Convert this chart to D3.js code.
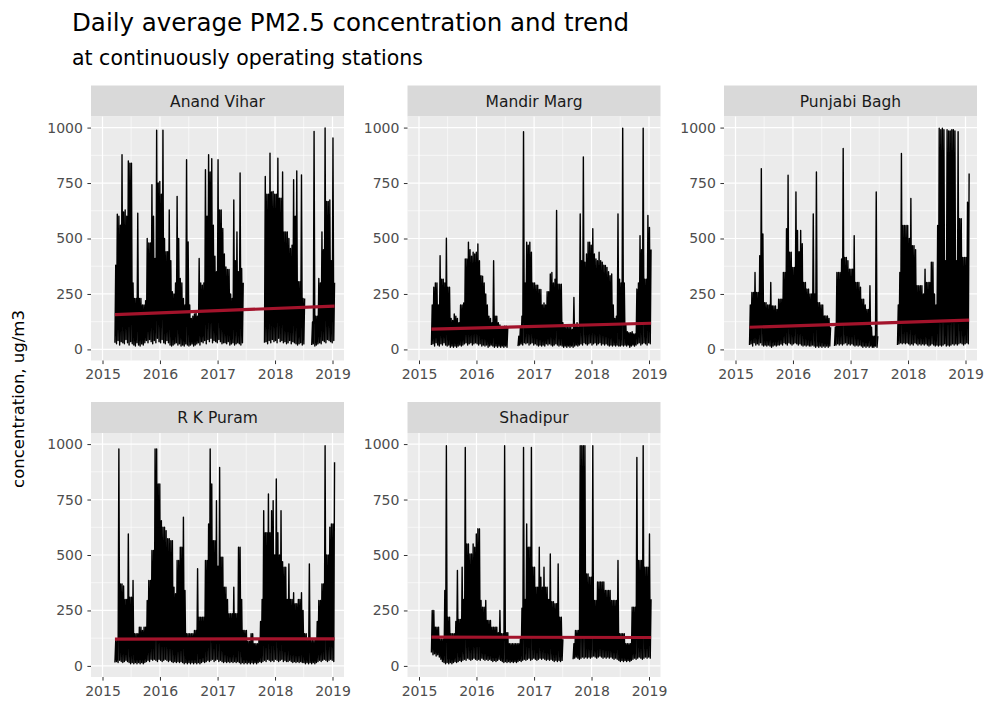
<!DOCTYPE html>
<html>
<head>
<meta charset="utf-8">
<script src="https://cdnjs.cloudflare.com/ajax/libs/d3/7.8.5/d3.min.js"></script>
<style>
  html, body { margin: 0; padding: 0; background: #ffffff; }
  svg { display: block; }
  text { font-family: "DejaVu Sans", "Liberation Sans", Arial, sans-serif; }
</style>
</head>
<body>
<svg id="chart" width="990" height="704"></svg>
<script>
// ---- data -----------------------------------------------------------------
const stations = ["Anand Vihar", "Mandir Marg", "Punjabi Bagh", "R K Puram", "Shadipur"];

// 10-day periods starting 21 March 2015; for each period the lowest and the
// highest daily average (ug/m3). null = station offline.
const firstPeriod = new Date(2015, 2, 21);
const periodDays = 10;

const anandViharHigh = [
  380, 610, 600, 560, 878, 620, 629, 600, 850, 840,
  840, 300, 230, 230, 614, 230, 230, 200, 200, 220,
  500, 480, 480, 742, 600, 410, 988, 750, 757, 700,
  988, 500, 440, 440, 629, 400, 260, 250, 300, 690,
  500, 320, 300, 230, 200, 855, 485, 200, 140, 150,
  160, 170, 150, 410, 300, 290, 300, 810, 600, 878,
  800, 860, 560, 420, 350, 855, 629, 629, 545, 430,
  372, 360, 360, 250, 230, 674, 400, 530, 350, 795,
  365, 300, null, null, null, null, null, null, null, null,
  null, null, null, null, null, 780, 700, 700, 885, 710,
  712, 700, 700, 862, 682, 682, 800, 530, 530, 530,
  500, 455, 470, 765, 600, 805, 305, 305, 787, 230,
  230, null, null, null, null, 124, 983, 150, 150, 320,
  300, 530, 450, 998, 667, 667, 674, 400, 953, 300,
  null
];
const anandViharLow = [
  30, 25, 40, 20, 35, 30, 25, 45, 30, 20,
  35, 25, 20, 15, 30, 20, 15, 25, 20, 30,
  40, 30, 45, 35, 25, 40, 30, 50, 35, 30,
  45, 30, 25, 40, 30, 20, 15, 20, 25, 30,
  20, 25, 15, 20, 15, 25, 20, 15, 20, 25,
  15, 20, 25, 30, 20, 35, 30, 40, 25, 45,
  35, 50, 30, 40, 35, 30, 45, 35, 25, 30,
  30, 25, 35, 20, 25, 30, 20, 25, 30, 25,
  20, 30, null, null, null, null, null, null, null, null,
  null, null, null, null, null, 30, 35, 25, 40, 30,
  45, 35, 40, 30, 50, 35, 40, 30, 35, 25,
  30, 40, 25, 35, 30, 25, 20, 25, 30, 20,
  25, null, null, null, null, 20, 25, 15, 20, 25,
  30, 25, 40, 35, 30, 45, 40, 35, 30, 40,
  null
];

const mandirMargHigh = [
  200, 280, 300, 300, 200, 423, 317, 317, 300, 501,
  280, 280, 140, 130, 160, 150, 140, 120, 200, 200,
  210, 408, 408, 483, 450, 420, 438, 430, 438, 475,
  400, 332, 330, 300, 250, 200, 150, 140, 120, 400,
  150, 150, 120, 110, 100, 100, 105, 105, 100, null,
  null, null, null, null, null, 60, 100, 150, 981, 300,
  483, 470, 483, 438, 300, 300, 290, 290, 270, 270,
  200, 210, 200, 260, 260, 340, 347, 300, 317, 627,
  294, 294, 294, 120, 110, 100, 100, 100, 100, 90,
  234, 110, 120, 100, 611, 400, 868, 393, 430, 483,
  483, 470, 544, 430, 408, 400, 438, 400, 393, 380,
  378, 370, 350, 332, 340, 200, 140, 150, 611, 317,
  300, 997, 300, 110, 80, 75, 75, 80, 70, 70,
  272, 300, 513, 450, 997, 317, 317, 604, 550, 450,
  null
];
const mandirMargLow = [
  20, 25, 15, 30, 20, 15, 25, 20, 30, 20,
  15, 20, 10, 15, 10, 15, 10, 15, 20, 15,
  20, 25, 30, 20, 25, 30, 20, 25, 30, 25,
  20, 25, 15, 20, 15, 20, 10, 15, 20, 15,
  10, 15, 10, 15, 10, 15, 10, 15, 10, null,
  null, null, null, null, null, 15, 20, 25, 20, 30,
  25, 30, 20, 25, 30, 20, 25, 20, 15, 20,
  15, 20, 15, 25, 20, 25, 20, 15, 20, 25,
  20, 15, 20, 15, 10, 15, 10, 15, 10, 15,
  10, 15, 20, 15, 20, 25, 20, 30, 25, 20,
  25, 30, 20, 25, 30, 20, 25, 30, 20, 25,
  20, 25, 20, 15, 20, 15, 20, 15, 20, 15,
  15, 20, 15, 20, 15, 20, 10, 15, 20, 15,
  20, 25, 30, 20, 25, 30, 25, 20, 30, 25,
  null
];

const punjabiBaghHigh = [
  null, 200, 257, 257, 347, 257, 257, 423, 815, 520,
  211, 211, 200, 200, 302, 196, 196, 196, 180, 226,
  226, 226, 347, 347, 544, 785, 438, 438, 370, 370,
  710, 536, 440, 536, 476, 302, 302, 272, 272, 250,
  250, 611, 250, 800, 211, 211, 200, 200, 151, 151,
  151, 140, 100, null, null, 100, 347, 347, 347, 408,
  906, 415, 415, 400, 362, 362, 362, 513, 302, 302,
  302, 280, 226, 226, 200, 180, 180, 287, 100, 60,
  60, 710, 60, null, null, null, null, null, null, null,
  null, null, null, null, null, 200, 347, 883, 559, 559,
  559, 559, 500, 680, 468, 468, 450, 287, 287, 287,
  287, 250, 362, 302, 302, 302, 393, 393, 250, 200,
  559, 997, 990, 997, 990, 400, 990, 985, 985, 990,
  990, 985, 400, 981, 589, 589, 415, 415, 415, 664,
  793
];
const punjabiBaghLow = [
  null, 20, 25, 15, 30, 20, 25, 20, 30, 20,
  15, 20, 15, 20, 15, 10, 15, 20, 15, 20,
  20, 25, 20, 30, 25, 20, 30, 25, 20, 25,
  30, 25, 20, 25, 20, 15, 20, 15, 20, 15,
  15, 20, 15, 10, 15, 10, 15, 10, 15, 10,
  15, 10, 15, null, null, 15, 20, 25, 20, 25,
  20, 25, 30, 20, 25, 20, 25, 20, 15, 20,
  15, 20, 15, 10, 15, 10, 15, 10, 15, 10,
  10, 15, 10, null, null, null, null, null, null, null,
  null, null, null, null, null, 20, 25, 30, 25, 30,
  25, 30, 25, 20, 25, 20, 30, 25, 20, 25,
  20, 25, 20, 25, 20, 15, 20, 25, 20, 15,
  20, 15, 20, 15, 20, 25, 15, 20, 15, 20,
  25, 20, 25, 20, 25, 30, 25, 20, 25, 30,
  25
];

const rkPuramHigh = [
  115, 115, 978, 370, 370, 360, 300, 300, 595, 310,
  310, 385, 145, 145, 145, 175, 175, 160, 175, 175,
  295, 385, 385, 520, 520, 978, 978, 820, 820, 655,
  625, 625, 610, 573, 573, 565, 565, 355, 325, 475,
  475, 535, 535, 670, 340, 145, 145, 145, 145, 145,
  160, 160, 438, 220, 220, 220, 220, 475, 475, 640,
  978, 820, 565, 565, 745, 450, 895, 490, 490, 355,
  355, 300, 235, 235, 235, 355, 235, 235, 535, 535,
  300, 160, 160, 160, 110, 110, 145, 145, 100, 100,
  100, 120, 200, 300, 700, 600, 600, 775, 600, 700,
  745, 500, 843, 600, 500, 700, 470, 445, 445, 300,
  460, 300, 300, 330, 280, 280, 300, 300, 330, 250,
  145, 145, 115, 460, 115, 115, 115, 115, 200, 295,
  295, 370, 370, 993, 500, 500, 625, 640, 640, 918,
  null
];
const rkPuramLow = [
  15, 20, 15, 25, 20, 15, 20, 25, 20, 15,
  10, 15, 10, 15, 10, 15, 10, 15, 10, 15,
  20, 25, 20, 30, 25, 30, 25, 20, 30, 25,
  20, 25, 30, 25, 20, 25, 20, 15, 20, 15,
  20, 15, 20, 15, 10, 15, 10, 15, 10, 15,
  10, 15, 10, 15, 10, 15, 20, 15, 20, 25,
  20, 25, 30, 20, 25, 30, 20, 25, 20, 15,
  20, 15, 20, 15, 20, 15, 20, 15, 20, 15,
  10, 15, 10, 15, 10, 15, 10, 15, 10, 15,
  10, 15, 20, 15, 20, 25, 20, 30, 25, 20,
  25, 20, 30, 25, 20, 25, 30, 20, 25, 20,
  20, 25, 20, 15, 20, 15, 20, 15, 20, 15,
  15, 10, 15, 10, 15, 10, 15, 10, 15, 20,
  25, 20, 25, 30, 25, 20, 25, 30, 25, 20,
  null
];

const shadipurHigh = [
  250, 250, 175, 175, 175, 120, 120, 120, 340, 993,
  220, 220, 145, 145, 145, 200, 430, 210, 210, 445,
  300, 985, 550, 550, 505, 505, 550, 535, 595, 618,
  618, 295, 265, 265, 295, 205, 205, 205, 175, 175,
  175, 175, 150, 250, 145, 145, 993, 150, 150, 100,
  100, 100, 100, 100, 100, 100, 120, 260, 985, 300,
  640, 535, 535, 985, 445, 445, 355, 355, 535, 400,
  355, 445, 355, 355, 300, 505, 290, 290, 280, 280,
  460, 220, 220, 120, null, null, null, null, null, null,
  100, 160, 160, 160, 993, 993, 993, 993, 415, 415,
  400, 400, 993, 295, 295, 378, 378, 378, 378, 378,
  340, 340, 340, 340, 295, 295, 295, 295, 475, 145,
  145, 145, 145, 100, 100, 100, 100, 265, 265, 265,
  940, 475, 475, 475, 993, 445, 445, 445, 595, 300,
  null
];
const shadipurLow = [
  60, 50, 55, 45, 50, 40, 30, 20, 15, 10,
  15, 10, 15, 10, 15, 20, 15, 20, 25, 20,
  25, 30, 25, 35, 30, 25, 30, 35, 30, 25,
  30, 25, 35, 30, 25, 30, 25, 30, 25, 20,
  25, 20, 25, 30, 25, 20, 15, 20, 15, 20,
  15, 20, 15, 20, 15, 20, 25, 20, 25, 30,
  25, 30, 35, 25, 30, 35, 30, 25, 30, 35,
  30, 35, 30, 25, 30, 25, 30, 25, 20, 25,
  20, 25, 20, 25, null, null, null, null, null, null,
  30, 35, 40, 35, 30, 35, 40, 35, 40, 35,
  40, 35, 40, 45, 40, 35, 40, 45, 40, 35,
  40, 35, 40, 35, 40, 35, 30, 35, 30, 25,
  20, 25, 20, 25, 20, 25, 20, 25, 30, 35,
  30, 35, 40, 35, 30, 35, 40, 35, 40, 35,
  null
];

const stationHigh = [anandViharHigh, mandirMargHigh, punjabiBaghHigh, rkPuramHigh, shadipurHigh];
const stationLow  = [anandViharLow, mandirMargLow, punjabiBaghLow, rkPuramLow, shadipurLow];

// fitted linear trend at the first and last reading of each station
const trendStart = [157, 91, 100, 121, 130];
const trendEnd   = [195, 118, 132, 122, 128];

const yearTicks = [2015, 2016, 2017, 2018, 2019];
const concentrationTicks = [0, 250, 500, 750, 1000];
const concentrationMinor = [125, 375, 625, 875];

const titleText = "Daily average PM2.5 concentration and trend";
const subtitleText = "at continuously operating stations";
const yTitleText = "concentration, ug/m3";

// ---- layout ---------------------------------------------------------------
const svg = d3.select("#chart");
const panelW = 253, panelH = 244, stripH = 31;
const colLeft = [91, 407.5, 724];
const rowTop = [116.5, 433];
const tickLen = 3.6;

const xStart = new Date(2015, 0, 1), xEnd = new Date(2019, 0, 1);
const pad = (xEnd - xStart) * 0.05;
const xDomain = [new Date(+xStart - pad), new Date(+xEnd + pad)];
const yDomain = [-50, 1050];

svg.append("rect").attr("width", 990).attr("height", 704).attr("fill", "#ffffff");

// titles
svg.append("text").attr("x", 72).attr("y", 31)
  .attr("font-size", 24.5).attr("fill", "#000000").text(titleText);
svg.append("text").attr("x", 72).attr("y", 65)
  .attr("font-size", 20.5).attr("fill", "#000000").text(subtitleText);
svg.append("text")
  .attr("transform", "translate(24,399) rotate(-90)")
  .attr("text-anchor", "middle").attr("font-size", 16.5).attr("fill", "#000000")
  .text(yTitleText);

stations.forEach((name, s) => {
  const col = s % 3, row = Math.floor(s / 3);
  const left = colLeft[col], top = rowTop[row];
  const x = d3.scaleTime().domain(xDomain).range([left, left + panelW]);
  const y = d3.scaleLinear().domain(yDomain).range([top + panelH, top]);

  const g = svg.append("g").attr("class", "panel");

  // strip
  g.append("rect").attr("x", left).attr("y", top - stripH)
    .attr("width", panelW).attr("height", stripH).attr("fill", "#d9d9d9");
  g.append("text").attr("x", left + panelW / 2).attr("y", top - stripH / 2)
    .attr("dy", "0.36em").attr("text-anchor", "middle")
    .attr("font-size", 15.5).attr("fill", "#1a1a1a").text(name);

  // panel background and grid
  g.append("rect").attr("x", left).attr("y", top)
    .attr("width", panelW).attr("height", panelH).attr("fill", "#ebebeb");

  const yearDates = yearTicks.map(yr => new Date(yr, 0, 1));
  const midYears = yearTicks.slice(0, -1).map(yr => new Date(yr, 6, 2));

  g.selectAll(null).data(concentrationMinor).join("line")
    .attr("x1", left).attr("x2", left + panelW)
    .attr("y1", d => y(d)).attr("y2", d => y(d))
    .attr("stroke", "#ffffff").attr("stroke-width", 0.6);
  g.selectAll(null).data(midYears).join("line")
    .attr("x1", d => x(d)).attr("x2", d => x(d))
    .attr("y1", top).attr("y2", top + panelH)
    .attr("stroke", "#ffffff").attr("stroke-width", 0.6);
  g.selectAll(null).data(concentrationTicks).join("line")
    .attr("x1", left).attr("x2", left + panelW)
    .attr("y1", d => y(d)).attr("y2", d => y(d))
    .attr("stroke", "#ffffff").attr("stroke-width", 1.2);
  g.selectAll(null).data(yearDates).join("line")
    .attr("x1", d => x(d)).attr("x2", d => x(d))
    .attr("y1", top).attr("y2", top + panelH)
    .attr("stroke", "#ffffff").attr("stroke-width", 1.2);

  // concentration series: each period contributes its low day and its high day
  const series = [];
  stationHigh[s].forEach((hi, i) => {
    const day0 = d3.timeDay.offset(firstPeriod, i * periodDays);
    series.push({ date: day0, value: stationLow[s][i] });
    series.push({ date: d3.timeDay.offset(day0, periodDays / 2), value: hi });
  });
  const line = d3.line()
    .defined(d => d.value !== null)
    .x(d => x(d.date)).y(d => y(d.value));
  g.append("path").datum(series)
    .attr("d", line).attr("fill", "none")
    .attr("stroke", "#000000").attr("stroke-width", 1.4)
    .attr("stroke-linejoin", "round");

  // trend line across the observed period
  const observed = series.filter(d => d.value !== null);
  const trend = [
    { date: observed[0].date, value: trendStart[s] },
    { date: observed[observed.length - 1].date, value: trendEnd[s] }
  ];
  g.append("path").datum(trend)
    .attr("d", d3.line().x(d => x(d.date)).y(d => y(d.value)))
    .attr("fill", "none").attr("stroke", "#a3132b").attr("stroke-width", 3.2);

  // axes
  const yAxis = d3.axisLeft(y).tickValues(concentrationTicks)
    .tickSize(tickLen).tickPadding(4.5).tickFormat(d3.format("d"));
  const ax = svg.append("g").attr("transform", `translate(${left},0)`).call(yAxis);
  const xAxis = d3.axisBottom(x).tickValues(yearDates)
    .tickSize(tickLen).tickPadding(5).tickFormat(d3.timeFormat("%Y"));
  const bx = svg.append("g").attr("transform", `translate(0,${top + panelH})`).call(xAxis);
  [ax, bx].forEach(a => {
    a.select(".domain").remove();
    a.selectAll(".tick line").attr("stroke", "#333333").attr("stroke-width", 1);
    a.selectAll(".tick text").attr("fill", "#4d4d4d")
      .attr("font-size", 14).attr("font-family", "DejaVu Sans, Liberation Sans, Arial, sans-serif");
  });
});
</script>
</body>
</html>
